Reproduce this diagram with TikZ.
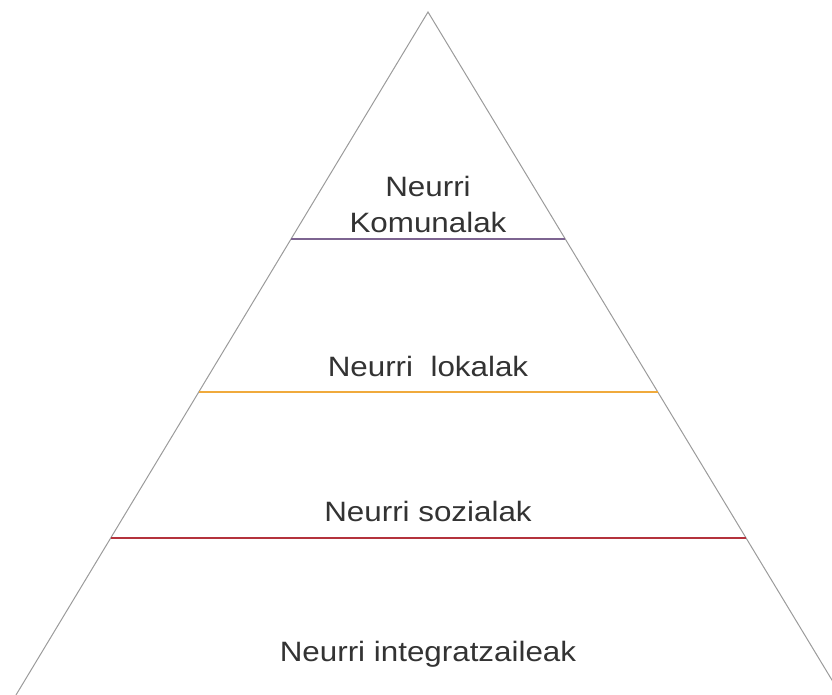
\documentclass[tikz,border=0pt]{standalone}
\usepackage{fontspec}
\setmainfont{Liberation Sans}[FakeStretch=1.12]
\usepackage{tikz}
\usetikzlibrary{calc}

\definecolor{sidegray}{RGB}{155,155,155}
\definecolor{komunal}{RGB}{125,100,145}
\definecolor{lokal}{RGB}{240,170,60}
\definecolor{sozial}{RGB}{180,50,60}
\definecolor{textgray}{RGB}{51,51,51}

\begin{document}
\begin{tikzpicture}[x=1pt, y=1pt,
    every node/.style={font=\fontsize{28}{36}\selectfont, text=textgray, align=center, inner sep=0pt},
    side/.style={draw=sidegray, line width=1pt}, level/.style={line width=1.6pt}]
    \useasboundingbox (0,0) rectangle (832,695);
    \clip (0,0) rectangle (832,695);
    \coordinate(top) at (428,683);
    \coordinate(left) at (16,0);
    \coordinate(right) at (841,0);
    \draw[side] (left) -- (top) -- (right);

    \coordinate(k1) at ($(top)!0.332!(left)$);
    \coordinate(k2) at ($(top)!0.332!(right)$);
    \coordinate(l1) at ($(top)!0.556!(left)$);
    \coordinate(l2) at ($(top)!0.556!(right)$);
    \coordinate(s1) at ($(top)!0.770!(left)$);
    \coordinate(s2) at ($(top)!0.770!(right)$);
    \draw[level, komunal] (k1) -- (k2);
    \draw[level, lokal] (l1) -- (l2);
    \draw[level, sozial] (s1) -- (s2);

    \node[anchor=base](komunalak) at (428,462) {Neurri\\Komunalak};
    \node[anchor=base](lokalak) at (428,318) {Neurri~~lokalak};
    \node[anchor=base](sozialak) at (428,173) {Neurri sozialak};
    \node[anchor=base](integratzaileak) at (428,33) {Neurri integratzaileak};
\end{tikzpicture}
\end{document}
